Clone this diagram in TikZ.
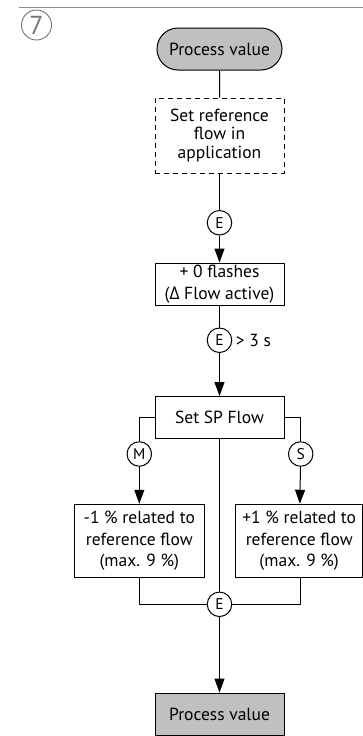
\documentclass[tikz,border=0pt]{standalone}
\usepackage{fontspec}
\setmainfont{PT Sans}
\newfontfamily\greekfont{Open Sans}
\usetikzlibrary{arrows.meta}
\usetikzlibrary{positioning, shapes.misc}
\definecolor{pvgray}{RGB}{192,192,192}

\begin{document}
\begin{tikzpicture}[x=1pt, y=-1pt, font=\fontsize{17.5}{21.5}\selectfont, >={Triangle[length=14pt, width=10pt]}]
		\tikzstyle{main}=[rectangle, draw=black, line width=1pt, minimum width=129pt, inner sep=2pt, align=center]
		\tikzstyle{event}=[circle, draw=black, line width=1pt, fill=white, minimum size=24.5pt, inner sep=0pt, font=\fontsize{15.5}{15.5}\selectfont]
		\tikzstyle{connect}=[->, line width=1pt]
		\tikzstyle{wire}=[line width=1pt]
		\useasboundingbox (0,0) rectangle (363,736);
		\draw[black!45, line width=0.9pt] (19,7) -- (363,7);
		\node[circle, draw=black!55, text=black!55, line width=0.9pt, minimum size=30pt, inner sep=0pt, font=\fontsize{26}{26}\selectfont] (seven) at (36.5,25) {7};
		\node[main, rounded rectangle, fill=pvgray, minimum height=42pt] (pv) at (219.5,49) {Process value};
		\node[main, dash pattern=on 5pt off 4pt, minimum height=75pt, font=\fontsize{17.5}{18.3}\selectfont] (setref) [below=27pt of pv] {Set reference\\flow in\\application};
		\node[event] (e_ref) [below=36.5pt of setref] {E};
		\node[main, minimum height=42pt] (flash) [below=27pt of e_ref] {+ 0 flashes\\({\greekfont Δ} Flow active)};
		\node[event] (e_hold) [below=22pt of flash] {E};
		\node[right=0pt of e_hold] (hold) {> 3 s};
		\node[main, minimum height=41.5pt] (spflow) [below=43pt of e_hold] {Set SP Flow};
		\node[event] (m) at (139.3,454) {M};
		\node[event] (s) at (300.7,454) {S};
		\node[main, minimum width=130pt, minimum height=73pt] (minus) [below=37pt of m] {-1 \% related to\\reference flow\\(max. 9 \%)};
		\node[main, minimum width=127pt, minimum height=73pt, xshift=-1.5pt] (plus) [below=37pt of s] {+1 \% related to\\reference flow\\(max. 9 \%)};
		\node[event] (e_done) at (219.5,604.3) {E};
		\node[main, fill=pvgray, minimum height=42pt] (pv2) [below=75.5pt of e_done] {Process value};
		\path
		(pv) edge [wire] (setref)
		(setref) edge [wire] (e_ref)
		(e_ref) edge [connect] (flash)
		(flash) edge [wire] (e_hold)
		(e_hold) edge [connect] (spflow)
		(spflow) edge [wire] (e_done)
		(m) edge [connect] (minus)
		(s) edge [connect] (plus)
		(e_done) edge [connect] (pv2)
		;
		\draw[wire] (spflow.west) -| (m);
		\draw[wire] (spflow.east) -| (s);
		\draw[wire] (minus.south) |- (e_done);
		\draw[wire] (plus.south -| s) |- (e_done);
	\end{tikzpicture}
\end{document}
